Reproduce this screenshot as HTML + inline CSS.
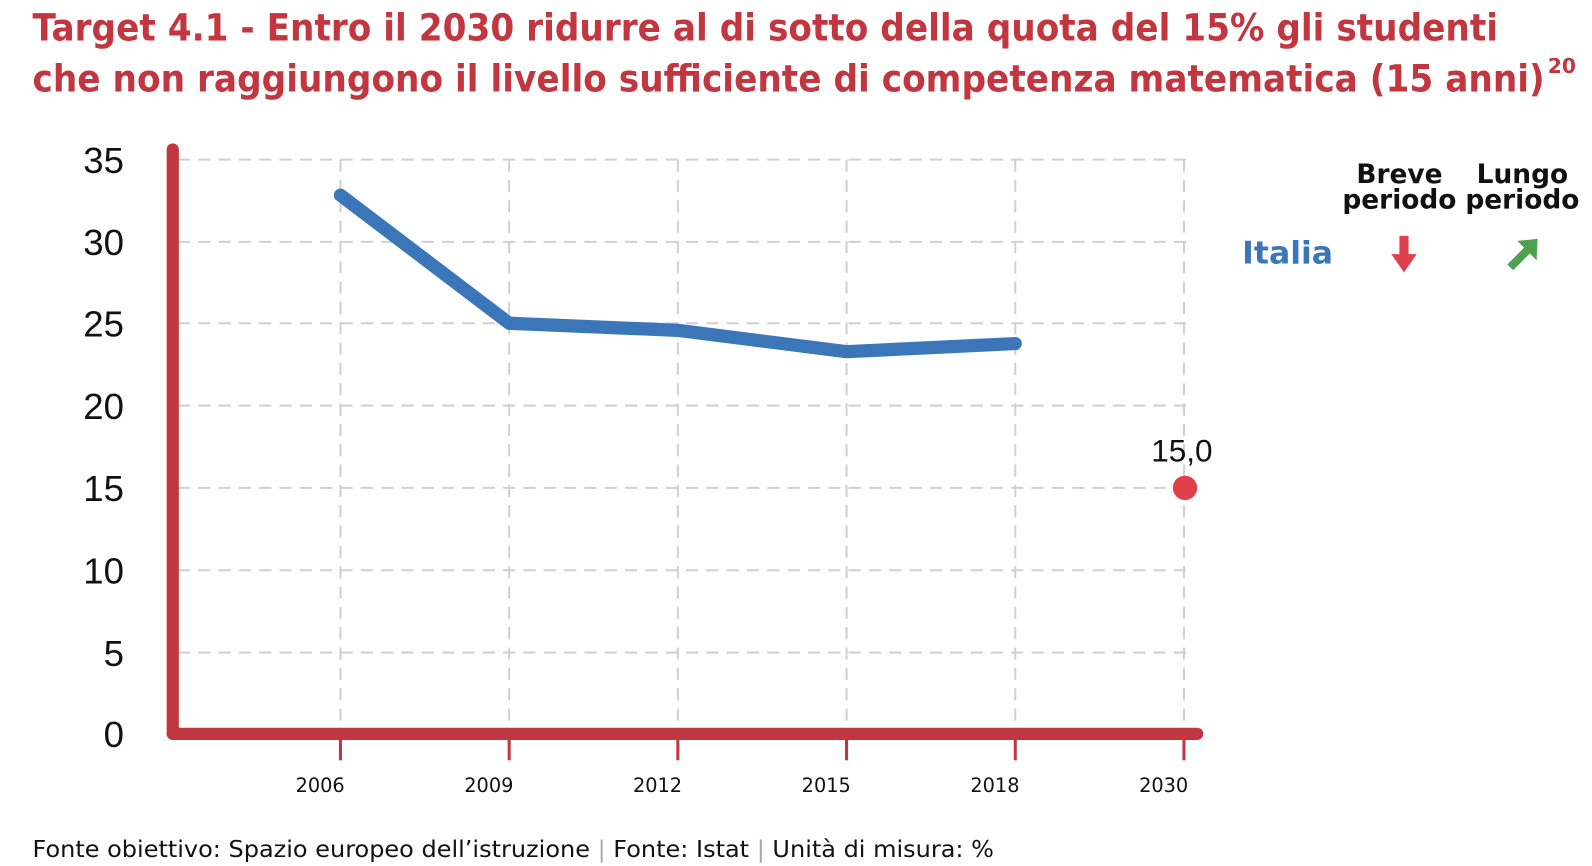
<!DOCTYPE html>
<html><head><meta charset="utf-8"><style>
html,body{margin:0;padding:0;background:#fff;width:1592px;height:866px;overflow:hidden}
svg{display:block}
</style></head><body>
<svg width="1592" height="866" viewBox="0 0 1566.5 852" preserveAspectRatio="none" xmlns="http://www.w3.org/2000/svg" font-family="'DejaVu Sans', 'Liberation Sans', sans-serif">
<text x="32" y="40" fill="#c1363f" font-size="37" font-weight="bold" textLength="1442" lengthAdjust="spacingAndGlyphs">Target 4.1 - Entro il 2030 ridurre al di sotto della quota del 15% gli studenti</text>
<text x="32" y="90" fill="#c1363f" font-size="37" font-weight="bold" textLength="1488" lengthAdjust="spacingAndGlyphs">che non raggiungono il livello sufficiente di competenza matematica (15 anni)</text>
<text x="1523" y="72" fill="#c1363f" font-size="20" font-weight="bold">20</text>
<g stroke="#d0d0d0" stroke-width="2" stroke-dasharray="12,8">
<line x1="175" y1="157" x2="1170" y2="157"/><line x1="175" y1="238" x2="1170" y2="238"/>
<line x1="175" y1="318" x2="1170" y2="318"/><line x1="175" y1="399" x2="1170" y2="399"/>
<line x1="175" y1="480" x2="1170" y2="480"/><line x1="175" y1="561" x2="1170" y2="561"/>
<line x1="175" y1="642" x2="1170" y2="642"/>
<line x1="335" y1="157" x2="335" y2="720"/><line x1="501" y1="157" x2="501" y2="720"/>
<line x1="667" y1="157" x2="667" y2="720"/><line x1="833" y1="157" x2="833" y2="720"/>
<line x1="999" y1="157" x2="999" y2="720"/><line x1="1165" y1="157" x2="1165" y2="720"/>
</g>
<g stroke="#c1363f" stroke-width="3">
<line x1="335" y1="722" x2="335" y2="748"/><line x1="501" y1="722" x2="501" y2="748"/>
<line x1="667" y1="722" x2="667" y2="748"/><line x1="833" y1="722" x2="833" y2="748"/>
<line x1="999" y1="722" x2="999" y2="748"/><line x1="1165" y1="722" x2="1165" y2="748"/>
</g>
<line x1="170" y1="147" x2="170" y2="722" stroke="#c1363f" stroke-width="12" stroke-linecap="round"/>
<line x1="170" y1="722" x2="1178" y2="722" stroke="#c1363f" stroke-width="12" stroke-linecap="round"/>
<g font-size="36" fill="#111" text-anchor="end" font-family="'Liberation Sans', sans-serif">
<text x="122" y="170">35</text><text x="122" y="251">30</text><text x="122" y="331">25</text>
<text x="122" y="412">20</text><text x="122" y="493">15</text><text x="122" y="574">10</text>
<text x="122" y="655">5</text><text x="122" y="735">0</text>
</g>
<g font-size="19" fill="#111" text-anchor="middle">
<text x="315" y="779">2006</text><text x="481" y="779">2009</text><text x="647" y="779">2012</text>
<text x="813" y="779">2015</text><text x="979" y="779">2018</text><text x="1145" y="779">2030</text>
</g>
<polyline points="335,192 501,318 667,325 833,346 999,338" fill="none" stroke="#3a76b8" stroke-width="13" stroke-linecap="round" stroke-linejoin="round"/>
<circle cx="1166" cy="480" r="12" fill="#e0404c"/>
<text x="1163" y="454" font-size="31" fill="#111" text-anchor="middle" font-family="'Liberation Sans', sans-serif">15,0</text>
<g font-size="26" font-weight="bold" fill="#111" text-anchor="middle">
<text x="1377" y="180">Breve</text><text x="1377" y="205">periodo</text>
<text x="1498" y="180">Lungo</text><text x="1498" y="205">periodo</text>
</g>
<text x="1267" y="259" font-size="31" font-weight="bold" fill="#3a76b8" text-anchor="middle">Italia</text>
<rect x="1377" y="232" width="9" height="20" fill="#e0404c"/>
<polygon points="1369,250 1394,250 1381.5,268" fill="#e0404c"/>
<line x1="1486" y1="263" x2="1504" y2="245" stroke="#4ea24f" stroke-width="8"/>
<polygon points="1513,235 1512,256 1493,237" fill="#4ea24f"/>
<text x="32" y="843" font-size="23" fill="#111" textLength="946" lengthAdjust="spacingAndGlyphs">Fonte obiettivo: Spazio europeo dell’istruzione <tspan fill="#aaa">|</tspan> Fonte: Istat <tspan fill="#aaa">|</tspan> Unità di misura: %</text>
</svg>
</body></html>
